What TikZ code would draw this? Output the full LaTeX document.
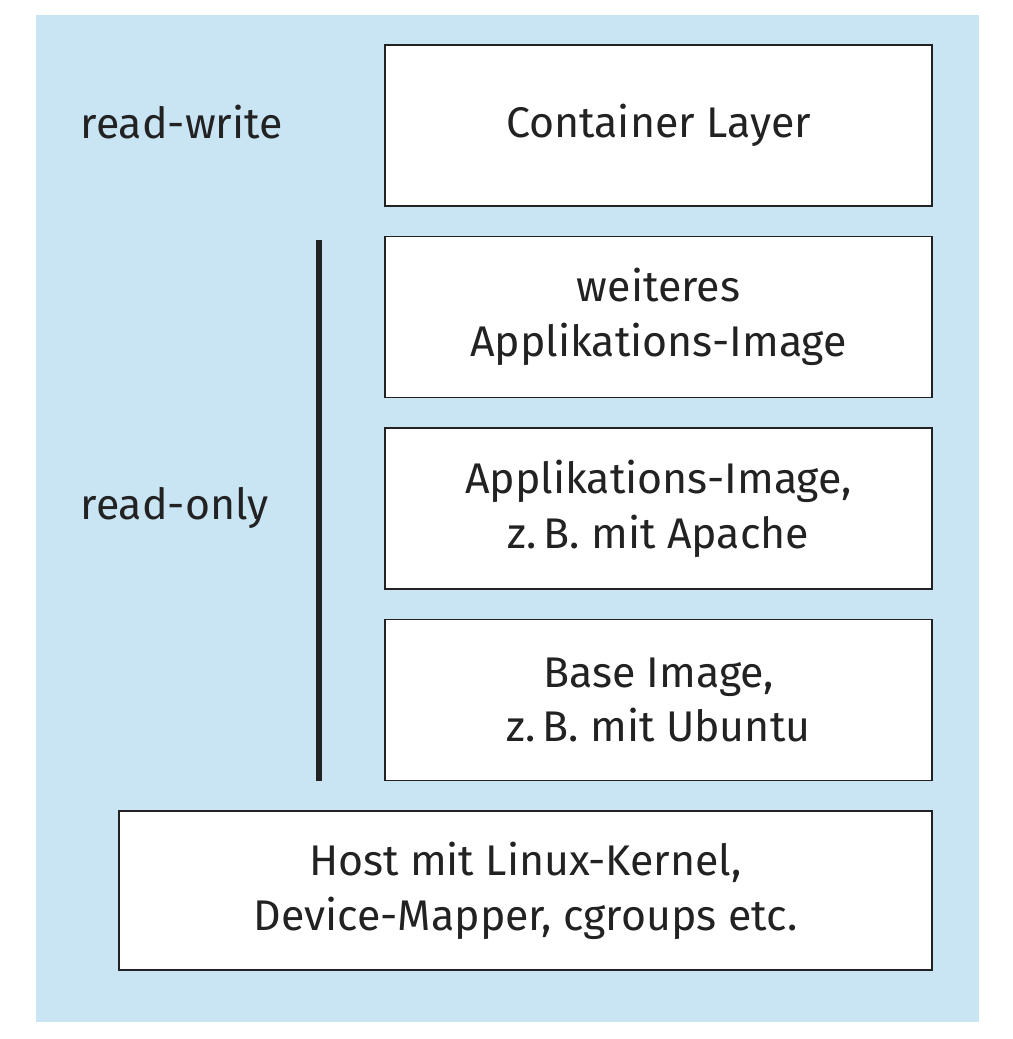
\documentclass[tikz,border=0pt]{standalone}
\usepackage{fontspec}
\setmainfont{Fira Sans}
\definecolor{bgblue}{RGB}{201,228,243}
\definecolor{txtgray}{RGB}{34,34,34}
\tikzset{
  layer/.style={draw=txtgray, line width=0.55pt, fill=white, minimum width=5.47cm, minimum height=1.61cm, align=center, inner sep=0pt, text=txtgray, font=\fontsize{12.2}{15.6}\selectfont},
  side/.style={anchor=west, inner sep=0pt, text=txtgray, font=\fontsize{12.2}{15.6}\selectfont}
}
\begin{document}
\begin{tikzpicture}[x=1cm,y=-1cm]
\useasboundingbox (0,0) rectangle (10.12,10.39);
\fill[bgblue] (0.36,0.15) rectangle (9.79,10.22);

\node[layer] (container) at (6.585,1.255) {Container Layer};
\node[layer] (weiteres) at (6.585,3.17) {weiteres\\Applikations-Image};
\node[layer] (apache) at (6.585,5.085) {Applikations-Image,\\z.\,B. mit Apache};
\node[layer] (base) at (6.585,7.00) {Base Image,\\z.\,B. mit Ubuntu};
\node[layer, minimum width=8.13cm, minimum height=1.59cm] (host) at (5.255,8.905) {Host mit Linux-Kernel,\\Device-Mapper, cgroups etc.};

\node[side] (rw) at (0.80,1.22) {read-write};
\node[side] (ro) at (0.80,5.08) {read-only};

\coordinate (bartop) at (3.19,2.40);
\coordinate (barbot) at (3.19,7.81);
\draw[txtgray, line width=1.7pt] (bartop) -- (barbot);

\end{tikzpicture}
\end{document}
